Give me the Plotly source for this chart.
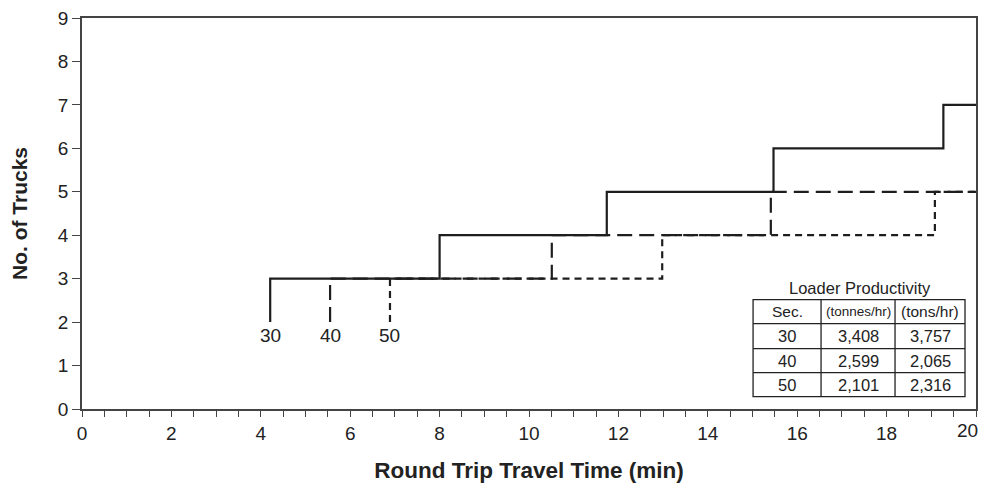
import plotly.graph_objects as go

# ---- data ----
cycle_labels = ["30", "40", "50"]
x_30 = [4.21, 4.21, 8.00, 11.74, 15.47, 19.27, 20.0]
y_30 = [2, 3, 4, 5, 6, 7, 7]
x_40 = [5.55, 5.55, 10.51, 15.41, 20.0]
y_40 = [2, 3, 4, 5, 5]
x_50 = [6.89, 6.89, 12.98, 19.08, 20.0]
y_50 = [2, 3, 4, 5, 5]

table_title = "Loader Productivity"
table_header = ["Sec.", "(tonnes/hr)", "(tons/hr)"]
table_sec = ["30", "40", "50"]
table_tonnes = ["3,408", "2,599", "2,101"]
table_tons = ["3,757", "2,065", "2,316"]

x_ticks = [0, 2, 4, 6, 8, 10, 12, 14, 16, 18, 20]
y_ticks = [0, 1, 2, 3, 4, 5, 6, 7, 8, 9]

FONT = "Liberation Sans, Arial, sans-serif"
LINE = "#1e1e1e"

fig = go.Figure()
styles = [("solid", x_30, y_30), ("15px,7px", x_40, y_40), ("7px,5px", x_50, y_50)]
for lab, (dash, xs, ys) in zip(cycle_labels, styles):
    fig.add_trace(go.Scatter(x=xs, y=ys, mode="lines", line_shape="hv",
                             line=dict(color=LINE, width=2.2, dash=dash),
                             name=lab, showlegend=False, hoverinfo="skip"))
    # label under the starting vertical
    fig.add_annotation(x=xs[0], y=ys[0], text=lab, showarrow=False,
                       xanchor="center", yanchor="middle",
                       yshift=-13, xref="x", yref="y",
                       font=dict(family=FONT, size=19, color="#222"))

# ---- table (paper coordinates; pixel positions measured in the final page) ----
PL, PR, PT, PB = 81.7, 976.0, 17.7, 409.5

def px2x(px):
    return (px - PL) / (PR - PL)

def py2y(py):
    return (PB - py) / (PB - PT)

col_px = [753, 821, 895, 965]
row_px = [300, 324, 349, 373, 397]
shapes = []
shapes.append(dict(type="rect", xref="paper", yref="paper",
                   x0=px2x(col_px[0]), x1=px2x(col_px[-1]),
                   y0=py2y(row_px[-1]), y1=py2y(row_px[0]),
                   line=dict(color="#222", width=1.3), fillcolor="white", layer="above"))
for c in col_px[1:-1]:
    shapes.append(dict(type="line", xref="paper", yref="paper",
                       x0=px2x(c), x1=px2x(c), y0=py2y(row_px[-1]), y1=py2y(row_px[0]),
                       line=dict(color="#222", width=1.3), layer="above"))
for r in row_px[1:-1]:
    shapes.append(dict(type="line", xref="paper", yref="paper",
                       x0=px2x(col_px[0]), x1=px2x(col_px[-1]), y0=py2y(r), y1=py2y(r),
                       line=dict(color="#222", width=1.3), layer="above"))

fig.add_annotation(xref="paper", yref="paper",
                   x=px2x((col_px[0] + col_px[-1]) / 2 + 1), y=py2y(288),
                   xanchor="center", yanchor="middle",
                   text=table_title, showarrow=False,
                   font=dict(family=FONT, size=16.5, color="#222"))
rows = [table_header] + [list(r) for r in zip(table_sec, table_tonnes, table_tons)]
for ri, row in enumerate(rows):
    yc = py2y((row_px[ri] + row_px[ri + 1]) / 2)
    for ci, txt in enumerate(row):
        xc = px2x((col_px[ci] + col_px[ci + 1]) / 2)
        size = 16.5
        if txt == "(tonnes/hr)":
            size = 13.5
        elif ri == 0:
            size = 15.5
        fig.add_annotation(xref="paper", yref="paper", x=xc, y=yc, text=txt,
                           xanchor="center", yanchor="middle",
                           showarrow=False,
                           font=dict(family=FONT, size=size, color="#222"))

# last x tick label drawn as an annotation, nudged left so it stays inside the visible page
x_ticktext = [str(v) for v in x_ticks[:-1]] + [""]
fig.add_annotation(xref="x", yref="paper", x=x_ticks[-1], y=0, yanchor="top",
                   xanchor="right", xshift=4, yshift=-9, text=str(x_ticks[-1]),
                   showarrow=False, font=dict(family=FONT, size=19, color="#222"))

# The page body has an 8px default margin, so the figure is sized/margined to compensate.
OFF = 8
W, H = 989 - OFF, 487 - OFF
fig.update_layout(
    width=W, height=H,
    margin=dict(l=PL - OFF, r=W - (PR - OFF), t=PT - OFF, b=H - (PB - OFF)),
    paper_bgcolor="white", plot_bgcolor="white",
    font=dict(family=FONT, size=19, color="#222"),
    shapes=shapes,
    showlegend=False,
)
fig.update_xaxes(range=[0, 20], tickvals=x_ticks, ticktext=x_ticktext,
                 ticks="outside", ticklen=6, tickwidth=1.2, tickcolor="#444",
                 minor=dict(dtick=0.5, ticks="outside", ticklen=6, tickwidth=1.2, tickcolor="#444"),
                 showline=True, linecolor="#444", linewidth=1.5, mirror=True,
                 showgrid=False, zeroline=False, automargin=False,
                 ticklabeloverflow="allow",
                 tickfont=dict(size=19),
                 title=dict(text="<b>Round Trip Travel Time (min)</b>", font=dict(size=22.5), standoff=20))
fig.update_yaxes(range=[0, 9], tickvals=y_ticks,
                 ticks="outside", ticklen=8, tickwidth=1.2, tickcolor="#444",
                 showline=True, linecolor="#444", linewidth=1.5, mirror=True,
                 showgrid=False, zeroline=False, automargin=False,
                 ticklabeloverflow="allow",
                 tickfont=dict(size=19),
                 title=dict(text="<b>No. of Trucks</b>", font=dict(size=21), standoff=27))

fig.write_html("out.html")
